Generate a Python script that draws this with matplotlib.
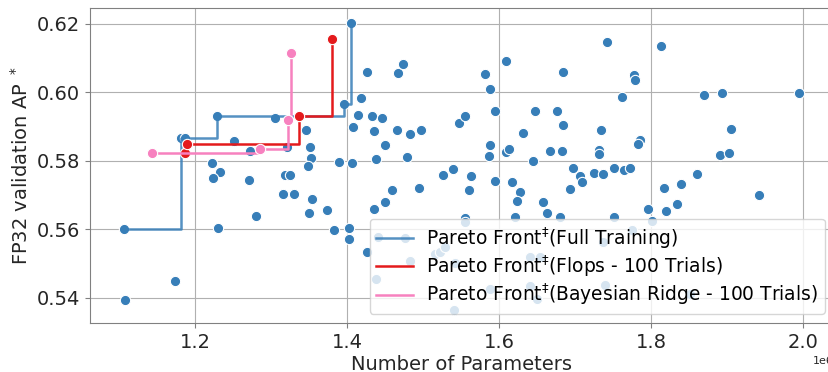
import numpy as np
import matplotlib
matplotlib.use("Agg")
import matplotlib.pyplot as plt

# all trials (params in millions, FP32 validation AP)
params = [1.4053, 1.4263, 1.4667, 1.4737, 1.4180, 1.3953, 1.4137, 1.4321, 1.4461, 1.3049,
          1.2289, 1.4075, 1.4351, 1.4658, 1.4829, 1.4970, 1.3461, 1.1808, 1.1864, 1.2513,
          1.4496, 1.3509, 1.2720, 1.3211, 1.3518, 1.4378, 1.4786, 1.2224, 1.3895, 1.4066,
          1.3487, 1.2325, 1.2237, 1.3180, 1.3246, 1.2703, 1.5255, 1.4939, 1.4584, 1.3158,
          1.3299, 1.3532, 1.4496, 1.4351, 1.3733, 1.3492, 1.2799, 1.2299, 1.1058, 1.3821,
          1.4026, 1.4026, 1.1729, 1.1071,
          1.7421, 1.8128, 1.6092, 1.5816, 1.6834, 1.7772, 1.7786, 1.5878, 1.7610, 1.8698,
          1.8926, 1.9947, 1.5939, 1.6470, 1.6755, 1.6842, 1.5470, 1.5549, 1.6316, 1.7338,
          1.9049, 1.7851, 1.7825, 1.5878, 1.5864, 1.6084, 1.6124, 1.6667, 1.6825, 1.7307,
          1.7312, 1.8904, 1.9027, 1.6447, 1.5391, 1.5624, 1.5605, 1.5939, 1.6163, 1.6272,
          1.6237, 1.6964, 1.7066, 1.7084, 1.7246, 1.7364, 1.7509, 1.7641, 1.7720, 1.6930,
          1.6579, 1.6632, 1.6799, 1.6203, 1.7509, 1.7957, 1.8193, 1.8338, 1.8167, 1.8391,
          1.8605, 1.9413, 1.5549, 1.5549, 1.8009,
          1.7742, 1.4408, 1.4759, 1.4255, 1.4825, 1.5154, 1.5220, 1.5286, 1.5417, 1.4378,
          1.5878, 1.5408, 1.6404, 1.6535, 1.6404, 1.6492, 1.7368, 1.7391, 1.8509]
ap = [0.6203, 0.6058, 0.6055, 0.6081, 0.5983, 0.5966, 0.5934, 0.5930, 0.5924, 0.5924,
      0.5932, 0.5898, 0.5888, 0.5890, 0.5879, 0.5890, 0.5890, 0.5867, 0.5866, 0.5858,
      0.5845, 0.5841, 0.5828, 0.5840, 0.5809, 0.5804, 0.5811, 0.5794, 0.5796, 0.5794,
      0.5784, 0.5767, 0.5751, 0.5759, 0.5759, 0.5745, 0.5759, 0.5721, 0.5714, 0.5704,
      0.5702, 0.5689, 0.5679, 0.5658, 0.5657, 0.5649, 0.5639, 0.5605, 0.5601, 0.5597,
      0.5603, 0.5573, 0.5449, 0.5393,
      0.6146, 0.6136, 0.6092, 0.6052, 0.6058, 0.6049, 0.6036, 0.6010, 0.5987, 0.5993,
      0.5998, 0.5998, 0.5945, 0.5946, 0.5946, 0.5904, 0.5910, 0.5932, 0.5882, 0.5890,
      0.5892, 0.5862, 0.5848, 0.5845, 0.5815, 0.5826, 0.5834, 0.5830, 0.5828, 0.5832,
      0.5820, 0.5816, 0.5823, 0.5799, 0.5777, 0.5756, 0.5714, 0.5741, 0.5739, 0.5709,
      0.5683, 0.5778, 0.5757, 0.5737, 0.5765, 0.5761, 0.5778, 0.5772, 0.5780, 0.5718,
      0.5680, 0.5648, 0.5637, 0.5637, 0.5637, 0.5659, 0.5653, 0.5673, 0.5722, 0.5733,
      0.5761, 0.5701, 0.5634, 0.5621, 0.5623,
      0.5599, 0.5577, 0.5574, 0.5534, 0.5509, 0.5529, 0.5534, 0.5550, 0.5503, 0.5454,
      0.5427, 0.5366, 0.5519, 0.5519, 0.5436, 0.5398, 0.5563, 0.5438, 0.5412]

# pareto fronts
full_x = [1.1058, 1.1808, 1.2289, 1.3953, 1.4053]
full_y = [0.5601, 0.5867, 0.5932, 0.5966, 0.6203]
flops_x = [1.1864, 1.1887, 1.3369, 1.3799]
flops_y = [0.5822, 0.5848, 0.5930, 0.6156]
bayes_x = [1.1434, 1.2855, 1.3224, 1.3254]
bayes_y = [0.5824, 0.5833, 0.5919, 0.6114]

blue, red, pink = "#377eb8", "#e41a1c", "#f781bf"

fig = plt.figure(figsize=(8.29, 3.72), dpi=100)
ax = fig.add_axes([90/829, 1-323/372, (834-90)/829, (323-7.5)/372])

M = 1e6
ax.scatter(np.array(params)*M, ap, s=55, color=blue, edgecolor="white", linewidth=0.8, zorder=2)

ax.plot(np.array(full_x)*M, full_y, drawstyle="steps-post", color=blue, lw=1.8, alpha=0.85,
        label="Pareto Front$^{\\ddagger}$(Full Training)", zorder=3)
ax.plot(np.array(flops_x)*M, flops_y, drawstyle="steps-post", color=red, lw=1.8,
        label="Pareto Front$^{\\ddagger}$(Flops - 100 Trials)", zorder=4)
ax.scatter(np.array(flops_x)*M, flops_y, s=55, color=red, edgecolor="white", linewidth=0.8, zorder=4)
ax.plot(np.array(bayes_x)*M, bayes_y, drawstyle="steps-post", color=pink, lw=1.8,
        label="Pareto Front$^{\\ddagger}$(Bayesian Ridge - 100 Trials)", zorder=5)
ax.scatter(np.array(bayes_x)*M, bayes_y, s=55, color=pink, edgecolor="white", linewidth=0.8, zorder=5)

ax.set_xlim(1.0614e6, 2.0404e6)
ax.set_ylim(0.5327, 0.6247)
ax.set_xticks([1.2e6, 1.4e6, 1.6e6, 1.8e6, 2.0e6])
ax.set_yticks([0.54, 0.56, 0.58, 0.60, 0.62])
ax.grid(True, color="#b0b0b0", lw=0.8)
ax.set_axisbelow(True)
for sp in ax.spines.values():
    sp.set_color("#808080")
ax.tick_params(labelsize=14, colors="#808080", labelcolor="#262626")
ax.xaxis.get_offset_text().set_fontsize(8)

ax.set_xlabel("Number of Parameters", fontsize=14, color="#262626", labelpad=2)
ax.set_ylabel("FP32 validation AP $^*$", fontsize=14, color="#262626", labelpad=4)

ax.legend(loc="lower right", fontsize=13.4, labelspacing=0.15, borderpad=0.35,
          handletextpad=0.7)

fig.savefig("out.png", dpi=100)
